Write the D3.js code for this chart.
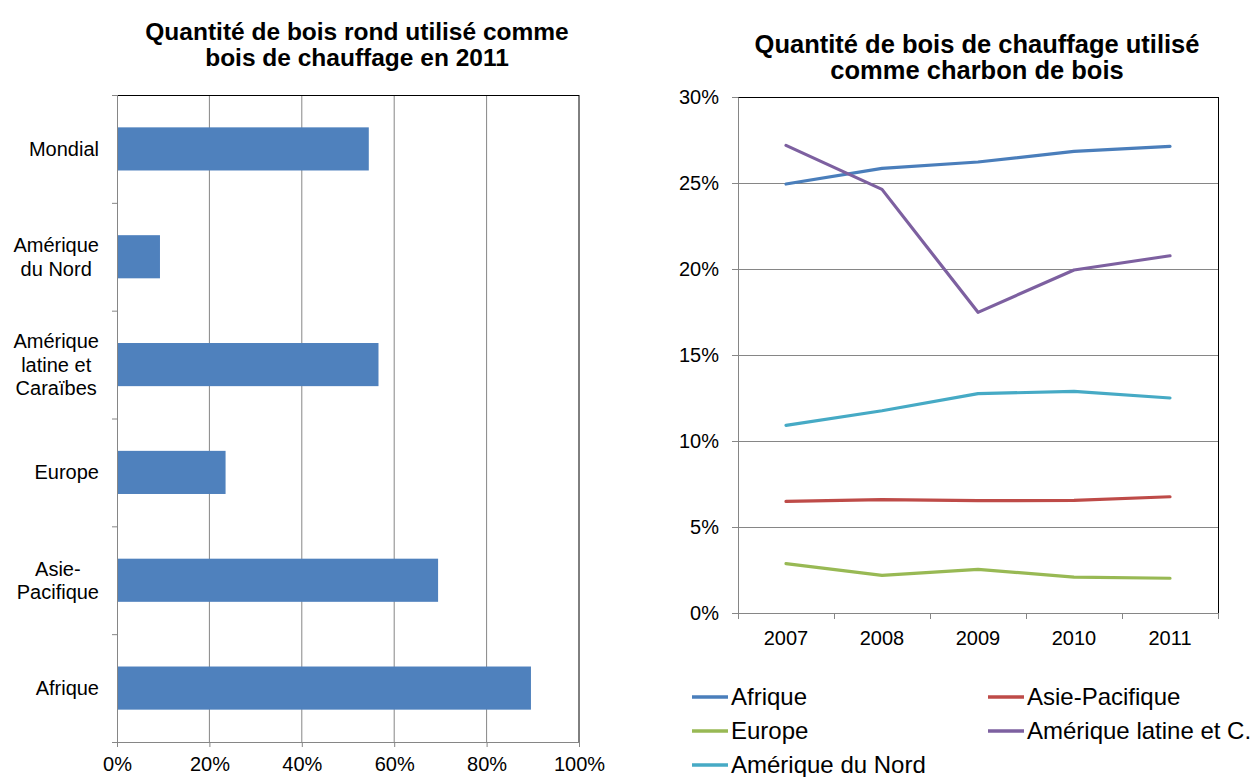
<!DOCTYPE html>
<html>
<head>
<meta charset="utf-8">
<script src="https://cdn.jsdelivr.net/npm/d3@7"></script>
<style>
  body { margin: 0; background: #fff; }
  svg text { font-family: "Liberation Sans", Arial, sans-serif; fill: #000; }
</style>
</head>
<body>
<svg id="chart" width="1257" height="777"></svg>
<script>
// left chart : share of roundwood used as fuelwood, 2011
let barCategories = ['Mondial', 'Amérique du Nord', 'Amérique latine et Caraïbes', 'Europe', 'Asie-Pacifique', 'Afrique'];
let barLabelLines = [['Mondial'], ['Amérique', 'du Nord'], ['Amérique', 'latine et', 'Caraïbes'], ['Europe'], ['Asie-', 'Pacifique'], ['Afrique']];
let barValues = [0.545, 0.093, 0.566, 0.235, 0.695, 0.896];
let barTicks = [0, 0.2, 0.4, 0.6, 0.8, 1];

// right chart : share of fuelwood used as charcoal
let years = ['2007', '2008', '2009', '2010', '2011'];
let seriesNames = ['Afrique', 'Asie-Pacifique', 'Europe', 'Amérique latine et C.', 'Amérique du Nord'];
let afrique = [0.2494, 0.2585, 0.2622, 0.2684, 0.2713];
let asiePacifique = [0.0649, 0.0659, 0.0653, 0.0655, 0.0676];
let europe = [0.0287, 0.0219, 0.0254, 0.0209, 0.0202];
let ameriqueLatine = [0.2719, 0.2463, 0.1748, 0.1994, 0.2077];
let ameriqueNord = [0.1091, 0.1176, 0.1275, 0.1289, 0.1250];
let lineTicks = [0, 0.05, 0.1, 0.15, 0.2, 0.25, 0.3];

let seriesColors = ['#4A7EBB', '#BE4B48', '#98B954', '#7D60A0', '#46AAC5'];
let seriesValues = [afrique, asiePacifique, europe, ameriqueLatine, ameriqueNord];

let gridCol = '#868686';
let pct = d3.format('.0%');
let svg = d3.select('#chart');

// ---------- bar chart ----------
let bx = d3.scaleLinear().domain([0, 1]).range([117, 579]);
let by = d3.scaleBand().domain(barCategories).range([95, 742]).paddingInner(0.6).paddingOuter(0.3);

let left = svg.append('g');

left.selectAll('line.grid')
  .data(barTicks.slice(1))
  .enter()
  .append('line')
  .attr('class', 'grid')
  .attr('x1', d => bx(d)).attr('x2', d => bx(d))
  .attr('y1', 95).attr('y2', 742)
  .style('stroke', d => d == 1 ? '#000' : gridCol)
  .style('stroke-width', '1px');

// top border of the plot area
left.append('line')
  .attr('x1', bx(0)).attr('x2', bx(1))
  .attr('y1', 95.5).attr('y2', 95.5)
  .style('stroke', '#000');

left.selectAll('rect.bar')
  .data(barCategories)
  .enter()
  .append('rect')
  .attr('class', 'bar')
  .attr('x', bx(0))
  .attr('y', d => by(d))
  .attr('width', (d, i) => bx(barValues[i]) - bx(0))
  .attr('height', by.bandwidth())
  .style('fill', '#4F81BD');

let bxAxis = left.append('g')
  .attr('transform', 'translate(0,742)')
  .call(d3.axisBottom(bx).tickValues(barTicks).tickFormat(pct).tickSize(5).tickPadding(10).tickSizeOuter(0));
bxAxis.select('.domain').style('stroke', gridCol);
bxAxis.selectAll('line').style('stroke', gridCol);
bxAxis.selectAll('text').style('font-size', '20px').style('font-family', '"Liberation Sans", Arial, sans-serif');

// left axis with ticks between the categories
let step = by.step();
let y0 = by.range()[0];
left.append('line')
  .attr('x1', bx(0) + 0.5).attr('x2', bx(0) + 0.5)
  .attr('y1', y0).attr('y2', by.range()[1])
  .style('stroke', gridCol);
left.selectAll('line.ytick')
  .data(d3.range(barCategories.length + 1))
  .enter()
  .append('line')
  .attr('class', 'ytick')
  .attr('x1', bx(0) - 5).attr('x2', bx(0))
  .attr('y1', d => y0 + d * step + 0.5).attr('y2', d => y0 + d * step + 0.5)
  .style('stroke', gridCol);

// category labels, right edge at 99, lines centred on each other
left.selectAll('g.catLab')
  .data(barCategories)
  .enter()
  .append('g')
  .attr('class', 'catLab')
  .each(function(d, i) {
    let g = d3.select(this);
    let lines = barLabelLines[i];
    let cy = by(d) + by.bandwidth() / 2;
    let texts = lines.map((t, j) => g.append('text')
      .attr('y', cy + (j - (lines.length - 1) / 2) * 23.5)
      .attr('dy', '0.35em')
      .attr('text-anchor', 'middle')
      .style('font-size', '20px')
      .text(t));
    let w = d3.max(texts, t => t.node().getComputedTextLength());
    texts.forEach(t => t.attr('x', 99 - w / 2));
  });

left.selectAll('text.title')
  .data(['Quantité de bois rond utilisé comme', 'bois de chauffage en 2011'])
  .enter()
  .append('text')
  .attr('class', 'title')
  .attr('x', 357)
  .attr('y', (d, i) => 31 + i * 26)
  .attr('dy', '0.35em')
  .attr('text-anchor', 'middle')
  .style('font-size', '24.5px')
  .style('font-weight', 'bold')
  .text(d => d);

// ---------- line chart ----------
let lx = d3.scaleBand().domain(years).range([738, 1218]);
let ly = d3.scaleLinear().domain([0, 0.3]).range([613, 97]);

let right = svg.append('g');

right.selectAll('line.grid')
  .data(lineTicks.slice(1))
  .enter()
  .append('line')
  .attr('class', 'grid')
  .attr('x1', lx.range()[0]).attr('x2', lx.range()[1])
  .attr('y1', d => Math.round(ly(d)) + 0.5).attr('y2', d => Math.round(ly(d)) + 0.5)
  .style('stroke', d => d == 0.3 ? '#000' : gridCol);

right.append('line')
  .attr('x1', 1218.5).attr('x2', 1218.5)
  .attr('y1', 97).attr('y2', 613)
  .style('stroke', '#000');

let lyAxis = right.append('g')
  .attr('transform', 'translate(738,0)')
  .call(d3.axisLeft(ly).tickValues(lineTicks).tickFormat(pct).tickSize(6).tickPadding(13).tickSizeOuter(0));
lyAxis.select('.domain').style('stroke', gridCol);
lyAxis.selectAll('line').style('stroke', gridCol);
lyAxis.selectAll('text').style('font-size', '20px').style('font-family', '"Liberation Sans", Arial, sans-serif');

let lxAxis = right.append('g')
  .attr('transform', 'translate(0,613)')
  .call(d3.axisBottom(lx).tickSize(0).tickPadding(18).tickSizeOuter(0));
lxAxis.select('.domain').style('stroke', gridCol);
lxAxis.selectAll('text').style('font-size', '20px').style('font-family', '"Liberation Sans", Arial, sans-serif');

// tick marks between the years
right.selectAll('line.xtick')
  .data(d3.range(years.length + 1))
  .enter()
  .append('line')
  .attr('class', 'xtick')
  .attr('x1', d => lx.range()[0] + d * lx.step() + 0.5)
  .attr('x2', d => lx.range()[0] + d * lx.step() + 0.5)
  .attr('y1', 613).attr('y2', 619)
  .style('stroke', gridCol);

let line = d3.line()
  .x((d, i) => lx(years[i]) + lx.bandwidth() / 2)
  .y(d => ly(d));

right.selectAll('path.series')
  .data(seriesValues)
  .enter()
  .append('path')
  .attr('class', 'series')
  .attr('d', line)
  .style('fill', 'none')
  .style('stroke', (d, i) => seriesColors[i])
  .style('stroke-width', '3.2px')
  .style('stroke-linejoin', 'round')
  .style('stroke-linecap', 'round');

right.selectAll('text.title')
  .data(['Quantité de bois de chauffage utilisé', 'comme charbon de bois'])
  .enter()
  .append('text')
  .attr('class', 'title')
  .attr('x', 977)
  .attr('y', (d, i) => 44 + i * 26)
  .attr('dy', '0.35em')
  .attr('text-anchor', 'middle')
  .style('font-size', '25.5px')
  .style('font-weight', 'bold')
  .text(d => d);

// legend, two columns
let legend = right.selectAll('g.leg')
  .data(seriesNames)
  .enter()
  .append('g')
  .attr('class', 'leg')
  .attr('transform', (d, i) => `translate(${i % 2 == 0 ? 692 : 988},${697 + Math.floor(i / 2) * 34})`);

legend.append('line')
  .attr('x1', 0).attr('x2', 36)
  .style('stroke', (d, i) => seriesColors[i])
  .style('stroke-width', '3.5px');

legend.append('text')
  .attr('x', 39)
  .attr('dy', '0.35em')
  .style('font-size', '24px')
  .text(d => d);
</script>
</body>
</html>
